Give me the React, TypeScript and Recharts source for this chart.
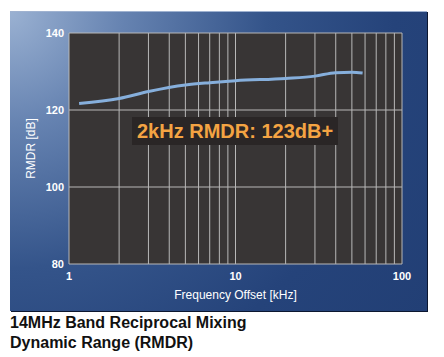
import React from 'react'
import { LineChart, Line, XAxis, YAxis, CartesianGrid } from 'recharts'

// offsets in kHz and RMDR in dB
const offsets = [1.15, 2, 3, 5, 7, 10, 20, 30, 40, 50, 58]
const rmdr = [121.7, 123.0, 124.8, 126.5, 127.1, 127.6, 128.2, 128.8, 129.7, 129.8, 129.6]

const xTicks = [1, 2, 3, 4, 5, 6, 7, 8, 9, 10, 20, 30, 40, 50, 60, 70, 80, 90, 100]
const xLabels = [1, 10, 100]
const yTicks = [80, 100, 120, 140]

const data = offsets.map((f, i) => ({ f, v: rmdr[i] }))

const font = '"Liberation Sans", Arial, Helvetica, sans-serif'

export default function App() {
  return (
    <div style={{ position: 'absolute', left: 0, top: 0, width: 444, height: 357, background: '#fff', fontFamily: font }}>
      <div
        style={{
          position: 'absolute',
          left: 10,
          top: 11,
          width: 417,
          height: 299,
          background: 'radial-gradient(circle at 0 0, #9ab1d2 0%, #6683b1 22%, #34548a 50%, #25437a 75%, #223f75 100%)',
          borderTop: '1px solid #9fb2d0',
          boxShadow: '1px 1px 0 #0c1730',
        }}
      />
      <div style={{ position: 'absolute', left: 0, top: 0 }}>
        <LineChart width={444} height={310} data={data} margin={{ top: 33, right: 42, left: 19, bottom: 0 }}>
          <CartesianGrid fill="#383535" stroke="#b8b8b8" strokeWidth={1} />
          <XAxis
            dataKey="f"
            type="number"
            scale="log"
            domain={[1, 100]}
            ticks={xTicks}
            interval={0}
            allowDataOverflow
            height={46}
            tickLine={false}
            axisLine={false}
            tickSize={0}
            tickMargin={8}
            tickFormatter={(t: number) => (xLabels.includes(t) ? String(t) : '')}
            tick={{ fill: '#fff', fontSize: 11, fontWeight: 700, fontFamily: font }}
            label={{ value: 'Frequency Offset [kHz]', position: 'insideBottom', offset: 11, fill: '#fff', fontSize: 12, fontFamily: font }}
          />
          <YAxis
            type="number"
            domain={[80, 140]}
            ticks={yTicks}
            width={50}
            tickLine={false}
            axisLine={false}
            tickSize={0}
            tickMargin={5}
            tick={{ fill: '#fff', fontSize: 11, fontWeight: 700, fontFamily: font }}
            label={{ value: 'RMDR [dB]', angle: -90, position: 'insideLeft', offset: 12, fill: '#fff', fontSize: 12, fontFamily: font, style: { textAnchor: 'middle' } }}
          />
          <Line type="monotone" dataKey="v" stroke="#86afdc" strokeWidth={3} dot={false} isAnimationActive={false} />
        </LineChart>
      </div>
      <div
        style={{
          position: 'absolute',
          left: 132,
          top: 117,
          width: 206,
          height: 28,
          background: '#2a2626',
          color: '#f4a443',
          fontWeight: 700,
          fontSize: 20,
          lineHeight: '28px',
          paddingLeft: 5,
          boxSizing: 'border-box',
          whiteSpace: 'nowrap',
        }}
      >
        2kHz RMDR: 123dB+
      </div>
      <div style={{ position: 'absolute', left: 10, top: 313, fontWeight: 700, fontSize: 16, lineHeight: '20px', color: '#111' }}>
        14MHz Band Reciprocal Mixing
        <br />
        Dynamic Range (RMDR)
      </div>
    </div>
  )
}
